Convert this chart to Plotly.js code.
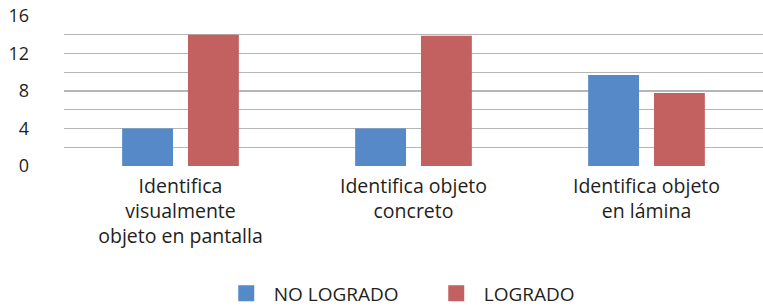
<!DOCTYPE html>
<html>
<head>
<meta charset="utf-8">
<script src="https://cdn.plot.ly/plotly-3.0.1.min.js"></script>
<style>html,body{margin:0;padding:0;background:#fff;}#chart{width:763px;height:306px;}</style>
</head>
<body>
<div id="chart"></div>
<script>
const categories = [
  "Identifica<br>visualmente<br>objeto en pantalla",
  "Identifica objeto<br>concreto",
  "Identifica objeto<br>en lámina"
];
const noLogrado = [4, 4, 9.7];
const logrado = [14, 13.9, 7.8];
const seriesNames = ["NO LOGRADO", "LOGRADO"];
const seriesColors = ["#5589c8", "#c36060"];
const yTickVals = [0, 4, 8, 12, 16];

const font = "Open Sans, Noto Sans, sans-serif";
const data = [
  {type: "bar", x: categories, y: noLogrado, name: seriesNames[0], marker: {color: seriesColors[0]}, showlegend: false},
  {type: "bar", x: categories, y: logrado, name: seriesNames[1], marker: {color: seriesColors[1]}, showlegend: false},
  // legend-only entries with larger square swatches
  {type: "scatter", mode: "markers", x: [null], y: [null], name: seriesNames[0],
   marker: {symbol: "square", size: 20, color: seriesColors[0]}, hoverinfo: "skip"},
  {type: "scatter", mode: "markers", x: [null], y: [null], name: seriesNames[1],
   marker: {symbol: "square", size: 20, color: seriesColors[1]}, hoverinfo: "skip"}
];
const layout = {
  width: 763, height: 306,
  margin: {l: 64, r: 0, t: 16, b: 140, autoexpand: false},
  paper_bgcolor: "#ffffff", plot_bgcolor: "#ffffff",
  font: {family: font, size: 19, color: "#231f20"},
  barmode: "group", bargap: 0.435, bargroupgap: 0.227,
  showlegend: true,
  legend: {orientation: "h", x: 0.2214, xanchor: "left", y: -0.85, yanchor: "middle",
           font: {family: font, size: 19, color: "#231f20"}, itemwidth: 45, entrywidth: 150,
           traceorder: "normal"},
  xaxis: {showgrid: false, showline: false, zeroline: false, ticks: "", tickfont: {size: 19.5}, ticklabelstandoff: 6, automargin: false},
  yaxis: {range: [0, 16], tickvals: yTickVals, showgrid: true, gridcolor: "#b5b5b5", gridwidth: 1.3,
          minor: {dtick: 2, showgrid: true, gridcolor: "#b5b5b5", gridwidth: 1.3},
          zeroline: false, showline: false, ticks: "", tickfont: {size: 18, color: "#231f20"},
          ticklabelstandoff: 34, automargin: false}
};
Plotly.newPlot("chart", data, layout, {displayModeBar: false, staticPlot: true});
</script>
</body>
</html>
